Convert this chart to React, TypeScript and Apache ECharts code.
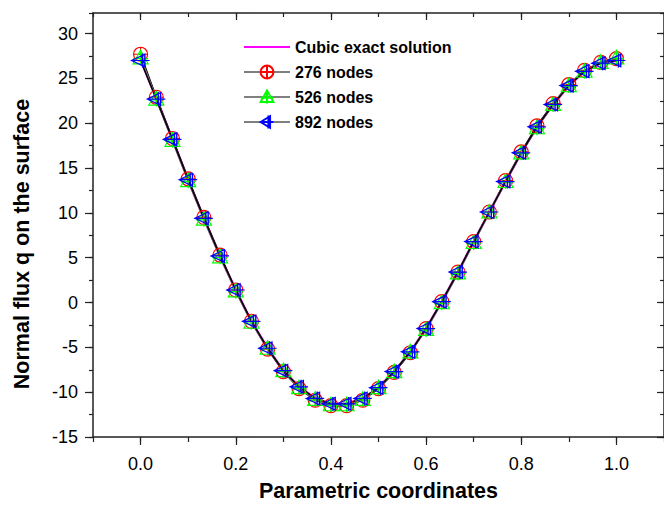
import React, { useEffect, useRef } from 'react';
import * as echarts from 'echarts';

const xs = [0.000, 0.033, 0.067, 0.100, 0.133, 0.167, 0.200, 0.233, 0.267, 0.300, 0.333, 0.367, 0.400, 0.433, 0.467, 0.500, 0.533, 0.567, 0.600, 0.633, 0.667, 0.700, 0.733, 0.767, 0.800, 0.833, 0.867, 0.900, 0.933, 0.967, 1.000];
const exact = [27.1, 22.8, 18.2, 13.7, 9.4, 5.2, 1.4, -2.1, -5.1, -7.6, -9.4, -10.7, -11.3, -11.3, -10.7, -9.5, -7.7, -5.5, -2.9, 0.1, 3.4, 6.8, 10.1, 13.5, 16.7, 19.6, 22.1, 24.2, 25.8, 26.7, 27.0];
const nodes276 = [27.7, 22.9, 18.3, 13.8, 9.5, 5.3, 1.4, -2.1, -5.2, -7.7, -9.6, -10.9, -11.5, -11.5, -10.9, -9.6, -7.8, -5.6, -2.9, 0.1, 3.4, 6.8, 10.1, 13.6, 16.8, 19.7, 22.2, 24.3, 25.9, 26.8, 27.2];
const nodes526 = [27.3, 22.7, 18.1, 13.6, 9.3, 5.1, 1.3, -2.2, -5.1, -7.6, -9.5, -10.8, -11.4, -11.4, -10.8, -9.5, -7.7, -5.5, -3.0, 0.0, 3.3, 6.7, 10.1, 13.5, 16.7, 19.5, 22.1, 24.2, 25.8, 26.8, 27.3];
const nodes892 = [27.0, 22.7, 18.2, 13.7, 9.4, 5.2, 1.4, -2.1, -5.1, -7.6, -9.4, -10.7, -11.3, -11.3, -10.7, -9.5, -7.7, -5.5, -2.9, 0.1, 3.4, 6.8, 10.1, 13.5, 16.7, 19.6, 22.1, 24.2, 25.8, 26.7, 27.0];

const xTickValues = [0, 0.2, 0.4, 0.6, 0.8, 1.0];
const yTickValues = [-15, -10, -5, 0, 5, 10, 15, 20, 25, 30];
const seriesNames = ['Cubic exact solution', '276 nodes', '526 nodes', '892 nodes'];

const FONT = 'Liberation Sans, Arial, sans-serif';
const AX = '#222';

const circlePlus = 'path://M10,0A10,10 0 1,1 10,20A10,10 0 1,1 10,0Z M0,10L20,10 M10,0L10,20';
const triUpPlus = 'path://M10,0L20,18L0,18Z M10,0L10,20 M0,11L20,11';
const triLeftPlus = 'path://M0,10L17,1L17,19Z M0,10L23,10 M14,0L14,20';

const pairs = (ys: number[]) => xs.map((x, i) => [x, ys[i]]);

export default function App() {
  const ref = useRef<HTMLDivElement>(null);
  useEffect(() => {
    if (!ref.current) return;
    const chart = echarts.init(ref.current, null, { renderer: 'svg' });
    const xBase = { type: 'value', min: -0.1, max: 1.1, splitLine: { show: false }, gridIndex: 0 };
    const yBase = { type: 'value', min: -15, max: 32.3, splitLine: { show: false }, gridIndex: 0 };
    const option: any = {
      animation: false,
      backgroundColor: '#fff',
      grid: { left: 93, top: 13, width: 571, height: 425, containLabel: false },
      legend: {
        orient: 'vertical',
        left: 238,
        top: 34,
        itemWidth: 46,
        itemHeight: 16,
        itemGap: 9,
        symbolKeepAspect: true,
        textStyle: { fontFamily: FONT, fontWeight: 'bold', fontSize: 16, color: '#000' },
        data: [
          { name: seriesNames[0], itemStyle: { opacity: 0 } },
          { name: seriesNames[1], lineStyle: { width: 1 } },
          { name: seriesNames[2], lineStyle: { width: 2 } },
          { name: seriesNames[3], lineStyle: { width: 1 } },
        ],
      },
      xAxis: [
        {
          ...xBase,
          position: 'bottom',
          axisLine: { show: true, onZero: false, lineStyle: { color: AX, width: 1.5 } },
          axisTick: { show: true, inside: false, length: 8, customValues: xTickValues, lineStyle: { color: AX, width: 1.2 } },
          axisLabel: {
            show: true, customValues: xTickValues, margin: 18,
            fontFamily: FONT, fontSize: 18, color: '#000',
            formatter: (v: number) => v.toFixed(1),
          },
          name: 'Parametric coordinates',
          nameLocation: 'middle',
          nameGap: 43,
          nameTextStyle: { fontFamily: FONT, fontWeight: 'bold', fontSize: 21.5, color: '#000' },
        },
        {
          ...xBase,
          position: 'bottom',
          interval: 0.1,
          axisLine: { show: false, onZero: false },
          axisTick: { show: true, inside: false, length: 5, lineStyle: { color: AX, width: 1.2 } },
          axisLabel: { show: false },
        },
        {
          ...xBase,
          position: 'top',
          axisLine: { show: true, onZero: false, lineStyle: { color: AX, width: 1.5 } },
          axisTick: { show: true, inside: true, length: 7, customValues: xTickValues, lineStyle: { color: AX, width: 1.2 } },
          axisLabel: { show: false },
        },
        {
          ...xBase,
          position: 'top',
          interval: 0.1,
          axisLine: { show: false, onZero: false },
          axisTick: { show: true, inside: true, length: 4, lineStyle: { color: AX, width: 1.2 } },
          axisLabel: { show: false },
        },
      ],
      yAxis: [
        {
          ...yBase,
          position: 'left',
          interval: 5,
          axisLine: { show: true, onZero: false, lineStyle: { color: AX, width: 1.5 } },
          axisTick: { show: true, inside: false, length: 8, customValues: yTickValues, lineStyle: { color: AX, width: 1.2 } },
          axisLabel: {
            show: true, customValues: yTickValues, margin: 15,
            fontFamily: FONT, fontSize: 18, color: '#000',
          },
          name: 'Normal flux q on the surface',
          nameLocation: 'middle',
          nameGap: 60,
          nameTextStyle: { fontFamily: FONT, fontWeight: 'bold', fontSize: 21.5, color: '#000', padding: [0, 38, 0, 0] },
        },
        {
          ...yBase,
          position: 'left',
          interval: 2.5,
          axisLine: { show: false, onZero: false },
          axisTick: { show: true, inside: false, length: 4, lineStyle: { color: AX, width: 1.2 } },
          axisLabel: { show: false },
        },
        {
          ...yBase,
          position: 'right',
          interval: 5,
          axisLine: { show: true, onZero: false, lineStyle: { color: AX, width: 1.5 } },
          axisTick: { show: true, inside: true, length: 7, customValues: yTickValues, lineStyle: { color: AX, width: 1.2 } },
          axisLabel: { show: false },
        },
        {
          ...yBase,
          position: 'right',
          interval: 2.5,
          axisLine: { show: false, onZero: false },
          axisTick: { show: true, inside: true, length: 4, lineStyle: { color: AX, width: 1.2 } },
          axisLabel: { show: false },
        },
      ],
      series: [
        {
          name: seriesNames[0], type: 'line', xAxisIndex: 0, yAxisIndex: 0,
          data: pairs(exact), symbol: 'none', showSymbol: false,
          lineStyle: { color: '#ff00ff', width: 2.5 },
          itemStyle: { color: '#ff00ff' },
        },
        {
          name: seriesNames[1], type: 'line', xAxisIndex: 0, yAxisIndex: 0,
          data: pairs(nodes276), symbol: circlePlus, symbolSize: 14, symbolKeepAspect: true,
          lineStyle: { color: '#000', width: 1.5 },
          itemStyle: { color: 'rgba(0,0,0,0)', borderColor: '#ff0000', borderWidth: 1.2 },
        },
        {
          name: seriesNames[2], type: 'line', xAxisIndex: 0, yAxisIndex: 0,
          data: pairs(nodes526), symbol: triUpPlus, symbolSize: [15, 15], symbolKeepAspect: true,
          lineStyle: { color: '#808080', width: 2 },
          itemStyle: { color: 'rgba(0,0,0,0)', borderColor: '#00ff00', borderWidth: 1.2 },
        },
        {
          name: seriesNames[3], type: 'line', xAxisIndex: 0, yAxisIndex: 0,
          data: pairs(nodes892), symbol: triLeftPlus, symbolSize: [18, 16], symbolKeepAspect: true,
          lineStyle: { color: '#000', width: 1.5 },
          itemStyle: { color: 'rgba(0,0,0,0)', borderColor: '#0000ff', borderWidth: 1.3 },
        },
      ],
    };
    chart.setOption(option);
    return () => chart.dispose();
  }, []);
  return <div ref={ref} style={{ position: 'fixed', left: 0, top: 0, width: 664, height: 507 }} />;
}
